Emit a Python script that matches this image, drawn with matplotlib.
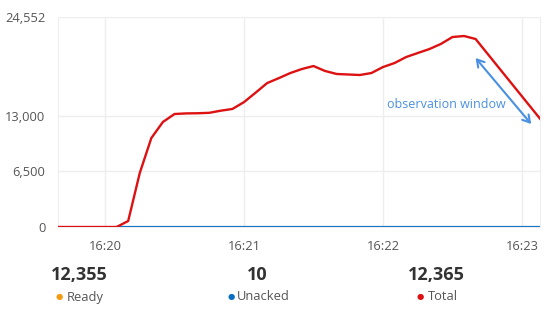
import matplotlib.pyplot as plt

plt.rcParams['font.family'] = ['Open Sans', 'DejaVu Sans']

# seconds after 16:20:00
t_total = [-20, 0, 5, 10, 15, 20, 25, 30, 35, 40, 45, 50, 55, 60, 65, 70, 75, 80,
           85, 90, 95, 100, 105, 110, 115, 120, 125, 130, 135, 140, 145, 150,
           155, 160, 188]
total = [0, 0, 0, 700, 6310, 10400, 12280, 13210, 13280, 13300, 13350, 13600,
         13800, 14600, 15700, 16830, 17400, 18000, 18470, 18820, 18240, 17890,
         17830, 17770, 18000, 18700, 19170, 19870, 20340, 20800, 21400, 22210,
         22330, 21980, 12600]
t_unacked = [5, 188]
unacked = [10, 10]

x_ticks = [0, 60, 120, 180]
x_labels = ['16:20', '16:21', '16:22', '16:23']
y_ticks = [0, 6500, 13000, 24552]
y_labels = ['0', '6,500', '13,000', '24,552']

stat_values = ['12,355', '10', '12,365']
stat_names = ['Ready', 'Unacked', 'Total']
stat_colors = ['#f39c12', '#0a6fc2', '#dd1111']

fig = plt.figure(figsize=(5.56, 3.2), dpi=100)
ax = fig.add_axes([58 / 556, 1 - 227 / 320, 482 / 556, 210 / 320])

ax.plot(t_unacked, unacked, color='#0a6fc2', lw=1.6, zorder=2)
ax.plot(t_total, total, color='#dd1111', lw=1.7, zorder=3)

ax.set_xlim(-20.3, 187.8)
ax.set_ylim(0, 24552)
ax.set_xticks(x_ticks)
ax.set_xticklabels(x_labels)
ax.set_yticks(y_ticks)
ax.set_yticklabels(y_labels)
ax.tick_params(length=0, labelsize=9.3, colors='#555555', pad=9)
ax.tick_params(axis='x', pad=9)
ax.grid(color='#eeeeee', lw=1)
ax.set_axisbelow(True)
for s in ax.spines.values():
    s.set_color('#eeeeee')

# observation window annotation
ax.annotate('', xy=(160, 19760), xytext=(184, 12040),
            arrowprops=dict(arrowstyle='<->,head_length=0.5,head_width=0.3',
                            color='#4a90e2', lw=1.5, shrinkA=0, shrinkB=0))
ax.text(147.5, 14380, 'observation window', color='#4a90e2', fontsize=9,
        ha='center', va='center')

# bottom stats
stat_x = [79, 257, 436]
for i in range(3):
    fig.text(stat_x[i] / 556, 1 - 275 / 320, stat_values[i], ha='center',
             va='center', fontsize=13, fontweight='bold', color='#333333')
    fig.text(stat_x[i] / 556 + 0.012, 1 - 297 / 320, stat_names[i], ha='center',
             va='center', fontsize=9.3, color='#555555')
dot_x = [59, 231, 420]
for i in range(3):
    fig.text(dot_x[i] / 556, 1 - 297 / 320, '\u25cf', ha='center', va='center',
             fontsize=6, color=stat_colors[i], family='DejaVu Sans')

fig.savefig('out.png', dpi=100)
